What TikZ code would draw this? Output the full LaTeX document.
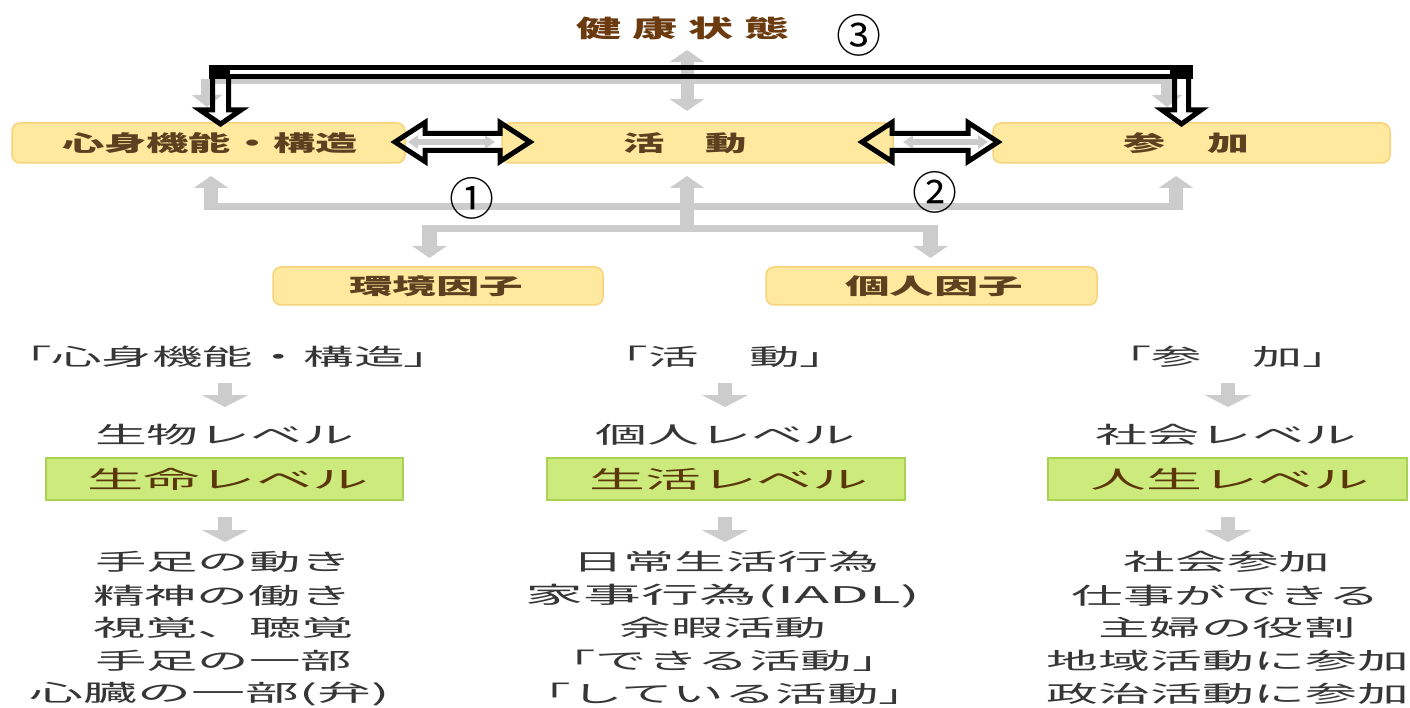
\documentclass[tikz,border=0pt]{standalone}
\usepackage{fontspec}
\usepackage{graphicx}
\newfontfamily\jp{Noto Sans CJK JP}
\newfontfamily\jpp[RawFeature=+palt]{Noto Sans CJK JP}
\usetikzlibrary{arrows.meta}
\definecolor{gline}{HTML}{CCCCCC}
\definecolor{yfill}{HTML}{FFE99E}
\definecolor{yborder}{HTML}{F9D27C}
\definecolor{gfill}{HTML}{CDEB7D}
\definecolor{gborder}{HTML}{A9D255}
\definecolor{boxtext}{HTML}{5C4020}
\definecolor{titlec}{HTML}{6B3A0E}
\definecolor{greentext}{HTML}{5A3608}
\definecolor{lowtext}{HTML}{363636}
\newcommand\jw[2]{\resizebox{#1pt}{\height}{#2}}
\begin{document}
\begin{tikzpicture}[x=1pt,y=-1pt,
  ybox/.style={draw=yborder, fill=yfill, rounded corners=8pt, line width=1.5pt, inner sep=0pt, minimum height=40pt},
  gbox/.style={draw=gborder, fill=gfill, line width=1.5pt, inner sep=0pt, minimum height=42pt},
  btxt/.style={font=\jp\bfseries\fontsize{22pt}{22pt}\selectfont, text=boxtext, inner sep=0pt},
  gtxt/.style={font=\jp\fontsize{24pt}{24pt}\selectfont, text=greentext, inner sep=0pt},
  ltxt/.style={font=\jp\fontsize{23pt}{23pt}\selectfont, text=lowtext, inner sep=0pt},
  ttxt/.style={font=\jp\bfseries\fontsize{24pt}{24pt}\selectfont, text=titlec, inner sep=0pt},
  num/.style={font=\jp\fontsize{45pt}{45pt}\selectfont, inner sep=0pt},
  garr/.style={draw=gline, line width=13pt, -{Triangle[width=34pt,length=12pt]}},
  gdbl/.style={draw=gline, line width=13pt, {Triangle[width=34pt,length=12pt]}-{Triangle[width=34pt,length=12pt]}},
  gsmall/.style={draw=gline, line width=6pt, {Triangle[width=13pt,length=10pt]}-{Triangle[width=13pt,length=10pt]}},
  glow/.style={draw=gline, line width=14pt, -{Triangle[width=46pt,length=12pt]}},
  hline/.style={draw=gline, line width=7pt},
  blk/.style={draw=black, line width=5pt, line join=miter}
]
\useasboundingbox (0,0) rectangle (1410,708);
\fill[white] (0,0) rectangle (1410,708);

% ---- title
\node[ttxt] (title) at (683,28) {\jw{214}{健\hspace{0.25em}康\hspace{0.25em}状\hspace{0.25em}態}};

% ---- gray connectors (top)
\draw[gdbl] (687,50) -- (687,111);
\draw[hline, line width=5pt] (201,82) -- (1173,82);
\draw[garr, line width=12pt, -{Triangle[width=30pt,length=12pt]}] (207,80) -- (207,107);
\draw[garr, line width=12pt, -{Triangle[width=30pt,length=12pt]}] (1167,80) -- (1167,107);
\draw[gsmall] (408,142) -- (495,142);
\draw[gsmall] (903,142) -- (988,142);

% ---- gray connectors (bottom network)
\draw[hline] (204,206.5) -- (1183,206.5);
\draw[garr, line width=14pt] (211,210) -- (211,176);
\draw[garr, line width=14pt] (687,232) -- (687,176);
\draw[garr, line width=14pt] (1176,210) -- (1176,176);
\draw[hline] (422,228.5) -- (938,228.5);
\draw[garr, line width=15pt] (429.5,225) -- (429.5,258);
\draw[garr, line width=15pt] (930.5,225) -- (930.5,258);

% ---- yellow boxes
\node[ybox, minimum width=393pt] (b1) at (208.5,143) {};
\node[btxt] (t1) at (210,143) {\jw{296}{心身機能・構造}};
\node[ybox, minimum width=391pt] (b2) at (697.5,143) {};
\node[btxt] (t2) at (685,143) {\jw{124}{活　動}};
\node[ybox, minimum width=397pt] (b3) at (1191.5,143) {};
\node[btxt] (t3) at (1186,143) {\jw{126}{参　加}};
\node[ybox, minimum width=330pt, minimum height=38pt] (b4) at (438,286) {};
\node[btxt] (t4) at (436,286) {\jw{174}{環境因子}};
\node[ybox, minimum width=331pt, minimum height=38pt] (b5) at (931.5,286) {};
\node[btxt] (t5) at (934,286) {\jw{178}{個人因子}};

% ---- black hollow arrows (1) and (2)
\draw[blk] (395,142) -- (425,122.5) -- (425,133.5) -- (500,133.5) -- (500,122.5) -- (530,142)
  -- (500,161.5) -- (500,150.5) -- (425,150.5) -- (425,161.5) -- cycle;
\draw[blk] (862,142) -- (892,122.5) -- (892,133.5) -- (968,133.5) -- (968,122.5) -- (998,142)
  -- (968,161.5) -- (968,150.5) -- (892,150.5) -- (892,161.5) -- cycle;

% ---- black bracket (3)
\fill[black] (209,65) rectangle (230,79);
\fill[black] (1170,65) rectangle (1193,79);
\draw[blk] (229,67.5) -- (1171,67.5);
\draw[blk] (229,76.5) -- (1171,76.5);
\draw[blk] (212.5,79) -- (212.5,110) -- (200,110) -- (220.5,124) -- (241,110) -- (228.5,110) -- (228.5,79);
\draw[blk] (1174.5,79) -- (1174.5,110) -- (1162,110) -- (1181.5,124) -- (1201,110) -- (1188.5,110) -- (1188.5,79);

% ---- numbers
\node[num] (n1) at (472,198) {①};
\node[num] (n2) at (935,192) {②};
\node[num] (n3) at (859,35) {③};

% ---- column 1
\node[ltxt] (c1h) at (228,357) {\jw{404}{{\jpp 「}心身機能・構造{\jpp 」}}};
\draw[glow] (225,383) -- (225,407);
\node[ltxt] (c1a) at (224.5,435) {\jw{259}{生物レベル}};
\node[gbox, minimum width=357pt] (g1) at (224.5,479) {};
\node[gtxt] (g1t) at (228,479) {\jw{281}{生命レベル}};
\draw[glow] (225,517) -- (225,542);
\node[ltxt] (c1b) at (223.5,562) {\jw{257}{手足の動き}};
\node[ltxt] (c1c) at (222.5,596) {\jw{259}{精神の働き}};
\node[ltxt] (c1d) at (223.5,628) {\jw{261}{視覚、聴覚}};
\node[ltxt] (c1e) at (223.5,661) {\jw{257}{手足の一部}};
\node[ltxt] (c1f) at (210,694) {\jw{360}{心臓の一部(弁)}};

% ---- column 2
\node[ltxt] (c2h) at (724,357) {\jw{253}{「活　動」}};
\draw[glow] (725,383) -- (725,407);
\node[ltxt] (c2a) at (725,435) {\jw{260}{個人レベル}};
\node[gbox, minimum width=358pt] (g2) at (726,479) {};
\node[gtxt] (g2t) at (729,479) {\jw{279}{生活レベル}};
\draw[glow] (725,517) -- (725,542);
\node[ltxt] (c2b) at (726,562) {\jw{307}{日常生活行為}};
\node[ltxt] (c2c) at (723,596) {\jw{394}{家事行為(IADL)}};
\node[ltxt] (c2d) at (723,628) {\jw{207}{余暇活動}};
\node[ltxt] (c2e) at (724,661) {\jw{359}{「できる活動」}};
\node[ltxt] (c2f) at (725,694) {\jw{411}{「している活動」}};

% ---- column 3
\node[ltxt] (c3h) at (1227,357) {\jw{251}{「参　加」}};
\draw[glow] (1228,383) -- (1228,407);
\node[ltxt] (c3a) at (1226,435) {\jw{261}{社会レベル}};
\node[gbox, minimum width=359pt] (g3) at (1227.5,479) {};
\node[gtxt] (g3t) at (1230,479) {\jw{279}{人生レベル}};
\draw[glow] (1228,517) -- (1228,542);
\node[ltxt] (c3b) at (1227,562) {\jw{207}{社会参加}};
\node[ltxt] (c3c) at (1226,596) {\jw{309}{仕事ができる}};
\node[ltxt] (c3d) at (1227,628) {\jw{257}{主婦の役割}};
\node[ltxt] (c3e) at (1228,661) {\jw{363}{地域活動に参加}};
\node[ltxt] (c3f) at (1228,694) {\jw{363}{政治活動に参加}};
\end{tikzpicture}
\end{document}
